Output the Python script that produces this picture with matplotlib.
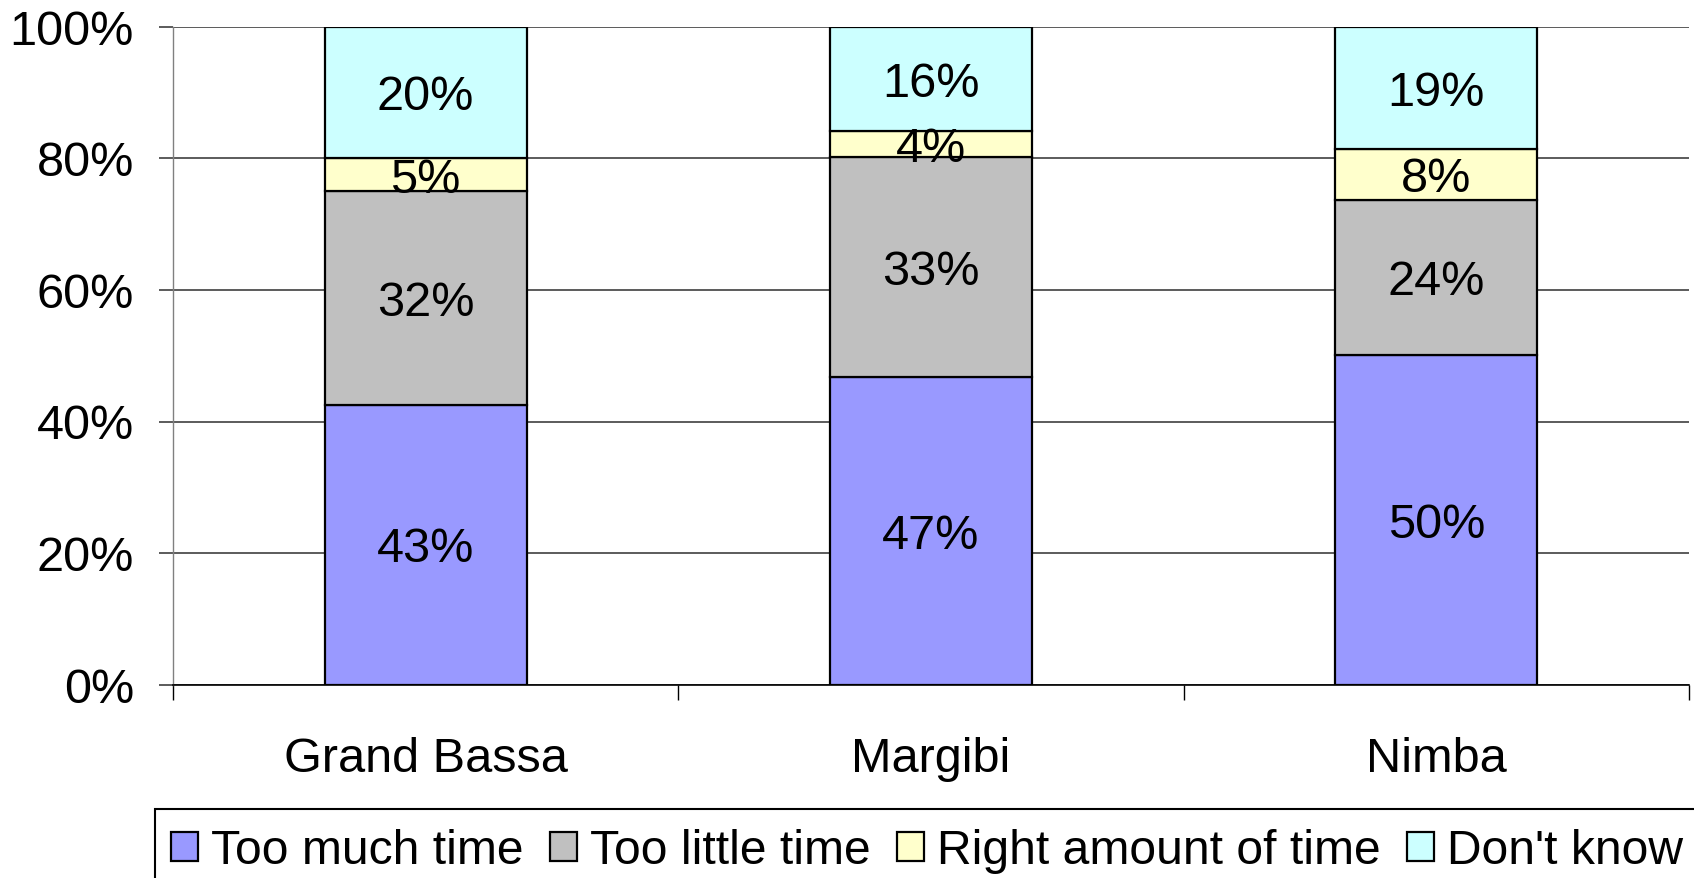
import matplotlib
matplotlib.use("Agg")
import matplotlib.pyplot as plt
from matplotlib.patches import Rectangle
import numpy as np

categories = ["Grand Bassa", "Margibi", "Nimba"]
series_names = ["Too much time", "Too little time", "Right amount of time", "Don't know"]
too_much = [42.6, 46.8, 50.1]
too_little = [32.4, 33.4, 23.6]
right_amount = [5.0, 3.9, 7.7]
dont_know = [20.0, 15.9, 18.6]
colors = ["#9999FF", "#C0C0C0", "#FFFFCC", "#CCFFFF"]
yticks = [0, 20, 40, 60, 80, 100]
ytick_labels = ["0%", "20%", "40%", "60%", "80%", "100%"]

plt.rcParams['font.family'] = ['Liberation Sans', 'DejaVu Sans']
FS = 35
LFS = 34.6

W, H = 1694, 878
fig = plt.figure(figsize=(16.94, 8.782), dpi=100)
ax = fig.add_axes([173/W, 1-685/H, (1689-173)/W, (685-27)/H])

x = np.arange(len(categories))
bottom = np.zeros(len(categories))
series = [too_much, too_little, right_amount, dont_know]
for name, vals, col in zip(series_names, series, colors):
    vals = np.array(vals)
    ax.bar(x, vals, width=0.4, bottom=bottom, color=col, edgecolor='black',
           linewidth=1.6, label=name, zorder=3)
    for xi, b, v in zip(x, bottom, vals):
        ax.text(xi, b + v/2, f"{v:.0f}%", ha='center', va='center_baseline',
                fontsize=FS, zorder=4)
    bottom += vals

ax.set_xlim(-0.5, 2.5)
ax.set_ylim(0, 100)
ax.set_yticks(yticks)
ax.set_yticklabels(ytick_labels, fontsize=FS)
ax.yaxis.grid(True, color='#404040', linewidth=1.2, zorder=0)
ax.set_xticks(x)
ax.set_xticklabels(categories, fontsize=FS)
ax.set_xticks([-0.5, 0.5, 1.5, 2.5], minor=True)
ax.tick_params(axis='x', which='major', length=0, pad=37)
ax.tick_params(axis='x', which='minor', length=11, width=1.0, color='black', direction='out')
ax.tick_params(axis='y', length=10, width=1.2, color='#404040', pad=18, direction='out')
for s in ['top', 'right']:
    ax.spines[s].set_visible(False)
ax.spines['left'].set_color('#808080')
ax.spines['left'].set_linewidth(1.0)
ax.spines['bottom'].set_color('black')
ax.spines['bottom'].set_linewidth(1.2)
ax.spines['bottom'].set_zorder(5)

# legend frame (extends beyond the figure edges, as in the reference)
fig.patches.append(Rectangle((155/W, -0.05), 1.1, (1-809/H) + 0.05,
                             transform=fig.transFigure, facecolor='white',
                             edgecolor='black', linewidth=1.5, zorder=0))
leg = fig.legend(loc='center left', bbox_to_anchor=(171/W, 1-851/H), ncol=4,
                 fontsize=LFS, frameon=False,
                 handlelength=0.56, handleheight=0.58, handletextpad=0.27,
                 columnspacing=0.55, borderpad=0, borderaxespad=0)
for h in leg.legend_handles:
    h.set_linewidth(1.6)

fig.savefig("out.png", dpi=100)
